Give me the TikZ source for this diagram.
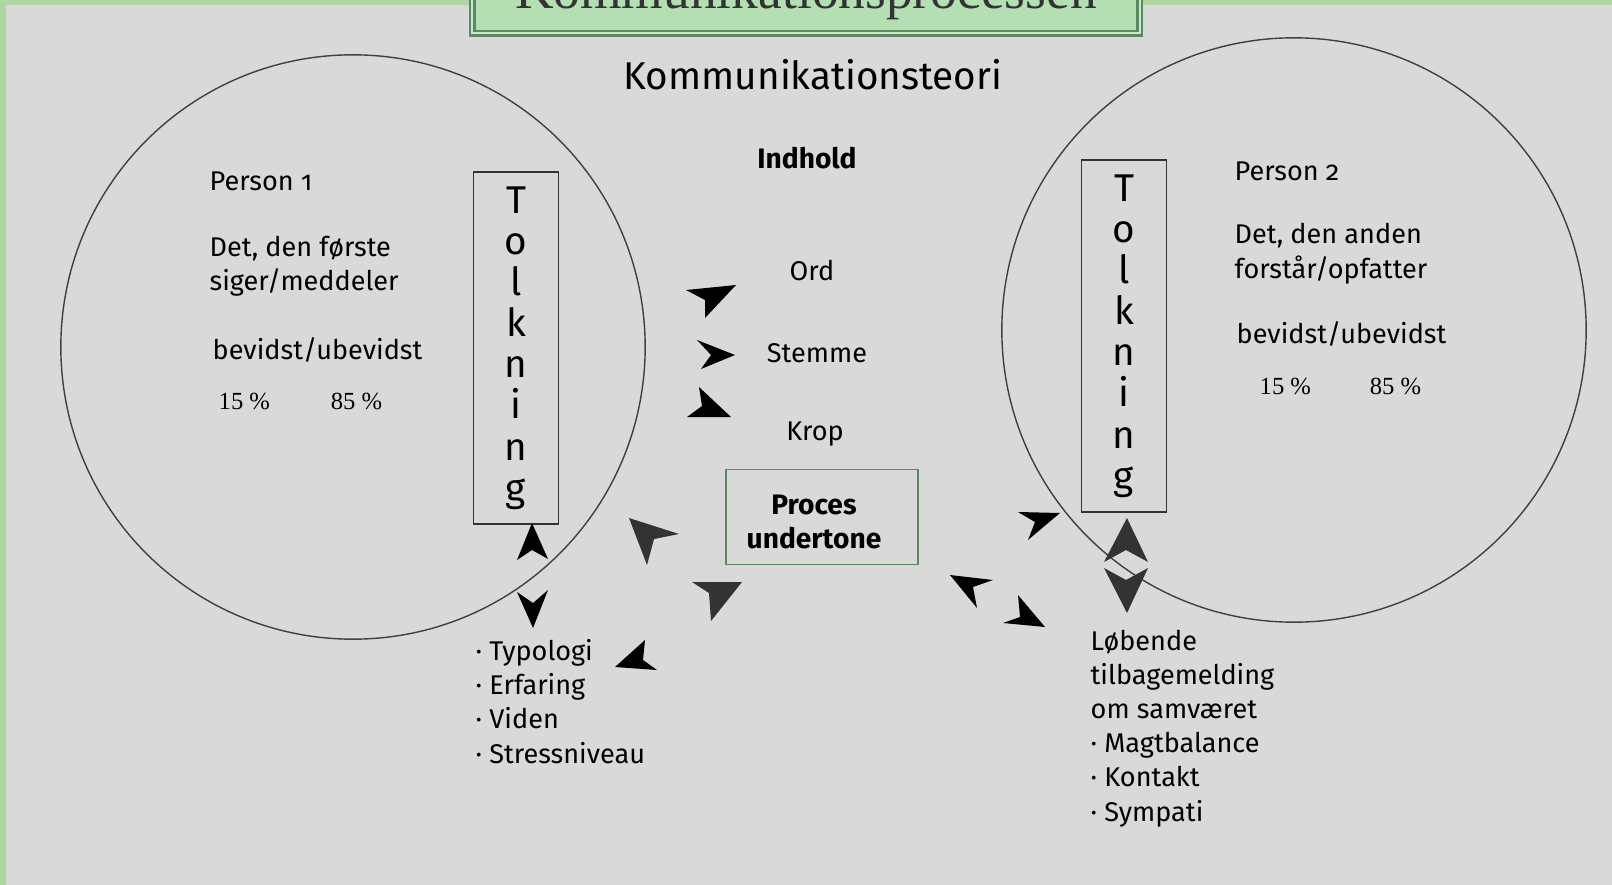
\documentclass[tikz,border=0pt]{standalone}
\usepackage{fontspec}
\setmainfont{Liberation Serif}
\setsansfont{Fira Sans}[Numbers=OldStyle]
\usetikzlibrary{positioning}

\definecolor{pagegrey}{HTML}{D9D9D9}
\definecolor{framegreen}{HTML}{B0D7A2}
\definecolor{boxgreen}{HTML}{B3DFB3}
\definecolor{edgegreen}{HTML}{5A8A64}
\definecolor{headgrey}{HTML}{333333}

% filled arrow head: tip, barb, notch, barb
\newcommand{\headfill}[5][black]{\fill[#1] #2 -- #3 -- #4 -- #5 -- cycle;}

\tikzset{
  txt/.style={inner sep=0pt, anchor=base west, align=left,
    font=\sffamily\fontsize{7.7}{9.7}\selectfont},
  pct/.style={inner sep=0pt, anchor=base west,
    font=\rmfamily\fontsize{7}{8}\selectfont},
  person/.style={circle, draw=black!75, line width=0.4pt,
    minimum size=5.84cm, inner sep=0pt},
  tolkbox/.style={draw=black!80, line width=0.45pt, minimum width=0.85cm,
    minimum height=3.52cm, align=center, inner sep=0pt,
    font=\sffamily\fontsize{11}{11.7}\selectfont},
  procbox/.style={draw=edgegreen, line width=0.4pt, minimum width=1.92cm,
    minimum height=0.95cm, inner sep=0pt},
  proctext/.style={align=center, inner sep=0pt,
    font=\sffamily\bfseries\fontsize{8}{9.4}\selectfont},
  titlebox/.style={draw=edgegreen, double=boxgreen!70!white, line width=0.7pt,
    double distance=0.55pt, fill=boxgreen, minimum width=6.67cm,
    minimum height=1.2cm, inner sep=0pt}
}

\begin{document}
\begin{tikzpicture}[x=0.01cm, y=-0.01cm]
\useasboundingbox (0,0) rectangle (1612,885);

%Background.
\fill[framegreen] (0,0) rectangle (1612,885);
\fill[pagegrey] (6,5) rectangle (1612,885);

%Title.
\node[titlebox, anchor=south] (titlebox) at (806,34.5) {};
\node[anchor=base, text=headgrey, font=\rmfamily\fontsize{15.2}{18}\selectfont]
  (title) at (806,9) {Kommunikationsprocessen};
\node[anchor=base, inner sep=0pt, font=\sffamily\fontsize{11}{13}\selectfont]
  (teori) at (813,90) {Kommunikationsteori};

%Persons.
\node[person] (person1) at (353,347) {};
\node[person] (person2) at (1294,330) {};
\node[tolkbox] (tolk1) at (516,348) {T\\o\\l\\k\\n\\i\\n\\g};
\node[tolkbox] (tolk2) at (1124,336) {T\\o\\l\\k\\n\\i\\n\\g};

%Person 1 text.
\node[txt] (p1name) at (209,191) {Person 1};
\node[txt] (p1says) at (209,291) {Det, den første\\siger/meddeler};
\node[txt] (p1aware) at (212,360) {bevidst/ubevidst};
\node[pct] (p1low) at (218,409) {15 \%};
\node[pct, right=1.12cm of p1low.base west, anchor=base west] (p1high) {85 \%};

%Person 2 text.
\node[txt] (p2name) at (1234,181) {Person 2};
\node[txt] (p2gets) at (1234,278) {Det, den anden\\forstår/opfatter};
\node[txt] (p2aware) at (1236,343) {bevidst/ubevidst};
\node[pct] (p2low) at (1259,394) {15 \%};
\node[pct, right=1.10cm of p2low.base west, anchor=base west] (p2high) {85 \%};

%Middle.
\node[txt, anchor=base, font=\sffamily\bfseries\fontsize{8}{9.7}\selectfont]
  (indhold) at (807,169) {Indhold};
\node[txt, anchor=base] (ord) at (812,281) {Ord};
\node[txt, anchor=base] (stemme) at (817,362) {Stemme};
\node[txt, anchor=base] (krop) at (815,440) {Krop};
\node[procbox] (proces) at (822,517) {};
\node[proctext] (undertone) at ([xshift=-0.08cm, yshift=-0.05cm]proces) {Proces\\undertone};

%Lists.
\node[txt] (typer) at (475,763)
  {· Typologi\\· Erfaring\\· Viden\\· Stressniveau};
\node[txt] (feedback) at (1090,821)
  {Løbende\\tilbagemelding\\om samværet\\· Magtbalance\\· Kontakt\\· Sympati};

%Arrow heads.
\headfill{(736,285)}{(686,290)}{(705,300)}{(705,318)}
\headfill{(735,355)}{(697,340)}{(711,355)}{(701,369)}
\headfill{(731,417)}{(699,387)}{(702,406)}{(687,417)}
\headfill[headgrey]{(629,518)}{(679,534)}{(654,539)}{(647,565)}
\headfill[headgrey]{(742,582)}{(692,582)}{(709,593)}{(711,621)}
\headfill{(615,667)}{(645,640)}{(643,660)}{(657,670)}
\headfill{(532,523)}{(517,560)}{(532,550)}{(548,559)}
\headfill{(533,628)}{(517,592)}{(533,603)}{(548,590)}
\headfill{(1060,513)}{(1018,512)}{(1035,522)}{(1028,540)}
\headfill{(950,575)}{(993,580)}{(973,587)}{(977,608)}
\headfill{(1045,627)}{(1018,595)}{(1020,617)}{(1003,623)}
\headfill[headgrey]{(1127,518)}{(1104,562)}{(1126,550)}{(1148,562)}
\headfill[headgrey]{(1127,613)}{(1104,568)}{(1126,580)}{(1148,568)}

\end{tikzpicture}
\end{document}
